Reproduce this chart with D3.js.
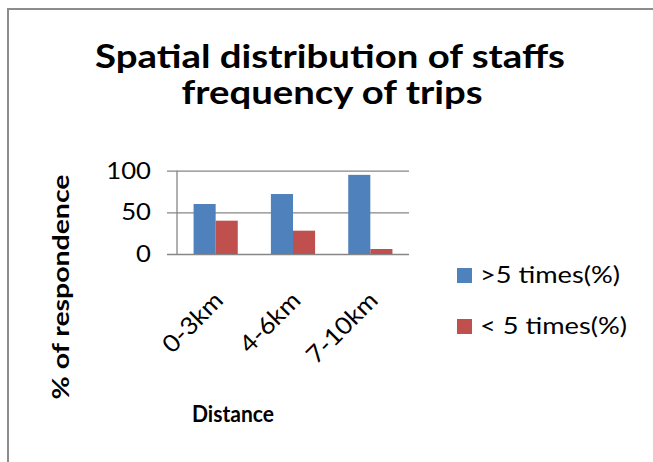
<!DOCTYPE html>
<html><head><meta charset="utf-8">
<script src="https://cdn.jsdelivr.net/npm/d3@7"></script>
<style>body{margin:0;background:#fff}svg{display:block}</style>
</head><body>
<svg id="c" width="653" height="462"></svg>
<script>
const categories = ["0-3km", "4-6km", "7-10km"];
const seriesNames = [">5 times(%)", "< 5 times(%)"];
const moreThan5 = [60, 72, 95];
const lessThan5 = [40, 28, 6];
const yTicks = [0, 50, 100];
const colors = ["#4F81BD", "#C0504D"];

const svg = d3.select("#c");
const font = "Lato, 'Open Sans', sans-serif";

// stretch a text element horizontally to a given factor of its natural width
function stretch(sel, factor) {
  sel.each(function () {
    const n = this.getComputedTextLength();
    d3.select(this).attr("textLength", n * factor).attr("lengthAdjust", "spacingAndGlyphs");
  });
}

// border (top + left)
svg.append("path").attr("d", "M8,462 V9 H653").attr("fill", "none")
  .attr("stroke", "#8c8c8c").attr("stroke-width", 2);

const plot = {left: 177, right: 409, top: 170.7, bottom: 254};
const x = d3.scaleBand().domain(categories).range([plot.left, plot.right]);
const x1 = d3.scaleBand().domain(seriesNames).range([0, x.bandwidth()]).paddingInner(0).paddingOuter(0.75);
const y = d3.scaleLinear().domain([0, 100]).range([plot.bottom, plot.top]);

// gridlines
const yAxis = d3.axisLeft(y).tickValues(yTicks).tickSize(-(plot.right - plot.left + 10)).tickFormat("");
const gy = svg.append("g").attr("transform", `translate(${plot.left - 10},0)`).call(yAxis);
gy.select(".domain").remove();
gy.selectAll(".tick line").attr("stroke", "#868686").attr("stroke-width", 1.3);

// y axis line
svg.append("line").attr("x1", plot.left).attr("x2", plot.left).attr("y1", plot.top).attr("y2", plot.bottom)
  .attr("stroke", "#868686").attr("stroke-width", 1.3);

// tick labels
const tl = svg.append("g").selectAll("text").data(yTicks).join("text")
  .attr("x", 151).attr("y", d => y(d)).attr("dy", "0.36em")
  .attr("text-anchor", "end").attr("font-family", font).attr("font-size", 22.5).attr("fill", "#000")
  .text(d => d);
stretch(tl, 1.14);

// bars
const data = categories.map((c, i) => ({c, vals: [moreThan5[i], lessThan5[i]]}));
const groups = svg.append("g").selectAll("g").data(data).join("g")
  .attr("transform", d => `translate(${x(d.c)},0)`);
groups.selectAll("rect").data(d => d.vals.map((v, j) => ({v, s: seriesNames[j], j})))
  .join("rect")
  .attr("x", d => x1(d.s)).attr("width", x1.bandwidth())
  .attr("y", d => y(d.v)).attr("height", d => y(0) - y(d.v))
  .attr("fill", d => colors[d.j]);

// x labels rotated
const xl = svg.append("g").selectAll("text").data(categories).join("text")
  .attr("transform", d => `translate(${x(d) + x.bandwidth() / 2 + 9},${plot.bottom + 48}) rotate(-45)`)
  .attr("text-anchor", "end").attr("font-family", font).attr("font-size", 24).attr("fill", "#000")
  .text(d => d);
stretch(xl, 1.08);

// title
const title = svg.append("text").attr("text-anchor", "middle").attr("font-family", font)
  .attr("font-weight", "bold").attr("font-size", 32).attr("fill", "#000");
const t1 = title.append("tspan").attr("x", 330).attr("y", 68).text("Spatial distribution of staffs");
const t2 = title.append("tspan").attr("x", 332).attr("y", 104).text("frequency of trips");
stretch(t1, 470 / t1.node().getComputedTextLength());
stretch(t2, 301 / t2.node().getComputedTextLength());

// axis titles
const yt = svg.append("text").attr("transform", "translate(69,287) rotate(-90)").attr("text-anchor", "middle")
  .attr("font-family", font).attr("font-weight", "bold").attr("font-size", 22).text("% of respondence");
stretch(yt, 225 / yt.node().getComputedTextLength());
const xt = svg.append("text").attr("x", 233).attr("y", 422).attr("text-anchor", "middle")
  .attr("font-family", font).attr("font-weight", "bold").attr("font-size", 23).text("Distance");
stretch(xt, 82 / xt.node().getComputedTextLength());

// legend
const lg = svg.append("g").selectAll("g").data(seriesNames).join("g")
  .attr("transform", (d, i) => `translate(457,${268 + i * 51})`);
lg.append("rect").attr("width", 15).attr("height", 15).attr("fill", (d, i) => colors[i]);
const lt = lg.append("text").attr("x", 23).attr("y", 15).attr("font-family", font).attr("font-size", 24).text(d => d);
stretch(lt, 140 / lt.node().getComputedTextLength());
</script>
</body></html>
